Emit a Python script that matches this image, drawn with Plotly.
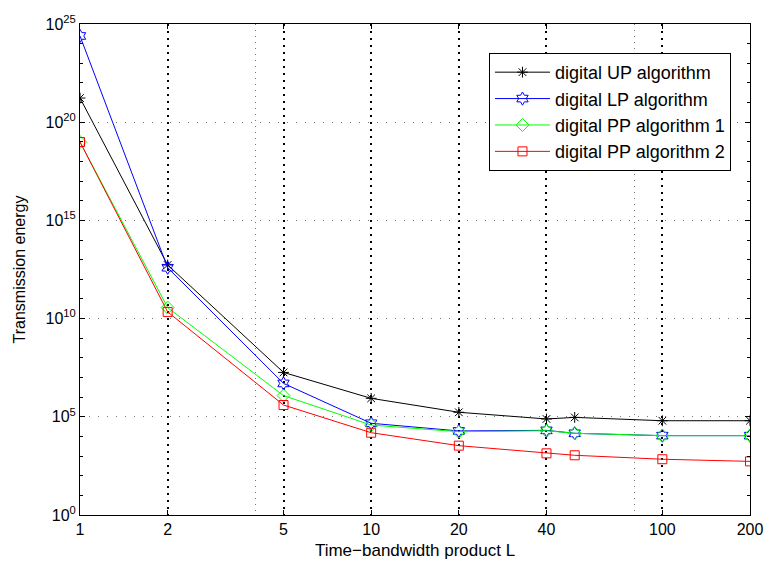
import plotly.graph_objects as go

L = [1, 2, 5, 10, 20, 40, 50, 100, 200]
up_exp = [21.23, 12.73, 7.26, 5.94, 5.23, 4.89, 4.97, 4.80, 4.80]
lp_exp = [24.39, 12.59, 6.70, 4.67, 4.28, 4.31, 4.16, 4.04, 4.04]
pp1_exp = [18.99, 10.56, 6.08, 4.58, 4.24, 4.29, 4.16, 4.04, 4.04]
pp2_exp = [18.99, 10.34, 5.60, 4.19, 3.53, 3.14, 3.04, 2.84, 2.73]

x_ticks = [1, 2, 5, 10, 20, 40, 100, 200]
x_minor_grid = [4, 80]
y_tick_exps = [0, 5, 10, 15, 20, 25]

series = [
    ("digital UP algorithm", up_exp, "black", "asterisk-open", 9),
    ("digital LP algorithm", lp_exp, "blue", "hexagram-open", 10),
    ("digital PP algorithm 1", pp1_exp, "#00ff00", "diamond-open", 10),
    ("digital PP algorithm 2", pp2_exp, "red", "square-open", 9),
]

fig = go.Figure()
for name, ex, col, sym, sz in series:
    fig.add_trace(go.Scatter(
        x=L, y=[10.0 ** e for e in ex], name=name, mode="lines+markers",
        line=dict(color=col, width=1),
        marker=dict(symbol=sym, size=sz, color=col, line=dict(color=col, width=1)),
    ))

FAM = "Liberation Sans, Arial, sans-serif"
font = dict(family=FAM, size=16, color="black")

fig.update_layout(
    width=769, height=566,
    margin=dict(l=80, r=19, t=24, b=51),
    paper_bgcolor="white", plot_bgcolor="white",
    font=font,
    showlegend=True,
    legend=dict(
        x=0.9716, y=0.941, xanchor="right", yanchor="top",
        bordercolor="black", borderwidth=1, bgcolor="white",
        font=dict(family=FAM, size=18, color="black"),
        tracegroupgap=0, itemwidth=55,
    ),
    xaxis=dict(
        type="log", range=[0, 2.30103], automargin=False,
        tickvals=x_ticks, ticktext=[str(v) for v in x_ticks],
        ticks="inside", ticklen=5, tickcolor="black",
        showline=True, linecolor="black", linewidth=1, mirror="ticks",
        showgrid=True, gridcolor="black", griddash="2px,5px", gridwidth=1.5,
        minor=dict(tickvals=x_minor_grid, showgrid=True, gridcolor="#777777",
                   griddash="1px,5px", gridwidth=1, ticks=""),
        zeroline=False,
        title=dict(text="Time\u2212bandwidth product L", standoff=6,
                   font=dict(family=FAM, size=17)),
        tickfont=font,
    ),
    yaxis=dict(
        type="log", range=[0, 25], automargin=False,
        tickvals=[10.0 ** e for e in y_tick_exps],
        ticktext=["10<sup>%d</sup>" % e for e in y_tick_exps],
        ticks="inside", ticklen=5, tickcolor="black",
        showline=True, linecolor="black", linewidth=1, mirror="ticks",
        showgrid=True, gridcolor="#777777", griddash="1px,8px", gridwidth=1,
        minor=dict(dtick=1, ticks="inside", ticklen=3, tickcolor="black", showgrid=False),
        zeroline=False,
        title=dict(text="Transmission energy", standoff=15,
                   font=dict(family=FAM, size=16)),
        tickfont=font,
    ),
)

fig.write_html("out.html", config={"displayModeBar": False},
               post_script="document.body.style.margin='0';")
